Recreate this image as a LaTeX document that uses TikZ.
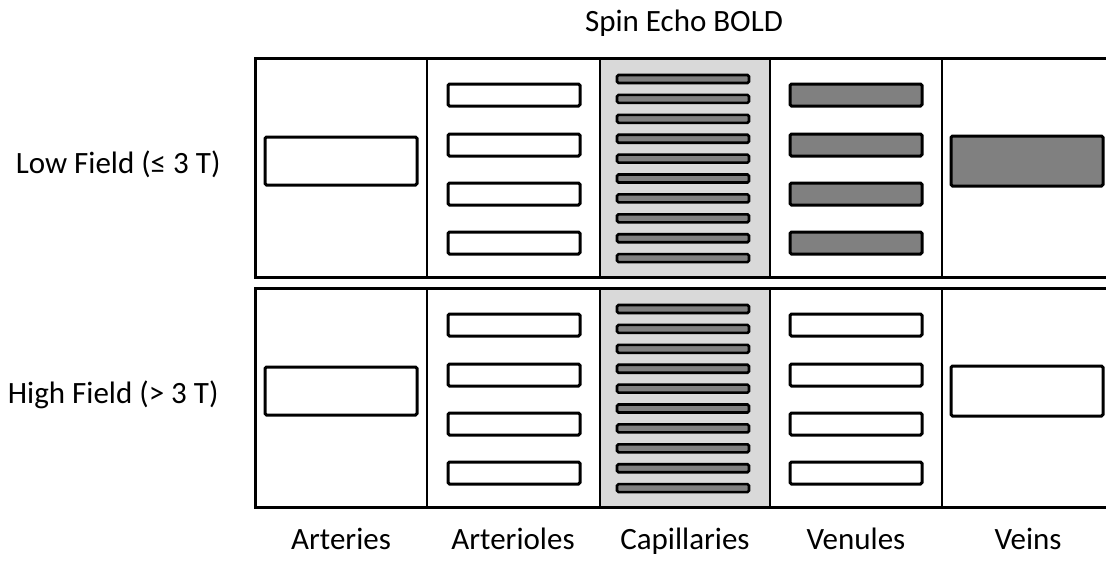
\documentclass[tikz,border=0pt]{standalone}
\usepackage{fontspec}
\setmainfont{Carlito}
\usetikzlibrary{positioning}
\definecolor{capbg}{HTML}{D9D9D9}
\definecolor{deoxy}{HTML}{808080}

\begin{document}
\begin{tikzpicture}[x=1pt, y=-1pt, line width=3pt,
  txt/.style={font=\fontsize{31}{37}\selectfont, inner sep=0pt},
  vessel/.style={draw, line width=3pt, rounded corners=1.5pt}]
  \useasboundingbox (0,0) rectangle (1106,560);

  % two field strength panels, venous blood dark only at low field
  \foreach \dy/\venfill in {0/deoxy, 230/white} {
    \begin{scope}[shift={(0,\dy)}]
      \fill[capbg] (600,58) rectangle (770,277);
      \draw (1106,58) -| (255,277) -- (1106,277);
      \foreach \x in {427,600,770,942}
        \draw[line width=2.6pt] (\x,58) -- (\x,277);
      \draw[vessel] (265,137) rectangle (417,185);
      \foreach \y in {84,134,183,232} {
        \draw[vessel] (448,\y) rectangle (580,\y+22);
        \draw[vessel, fill=\venfill] (790,\y) rectangle (922,\y+22);
      }
      \foreach \i in {0,...,9}
        \draw[vessel, fill=deoxy, line width=2.6pt] (617,75+19.9*\i) rectangle (749,83+19.9*\i);
      \draw[vessel, fill=\venfill] (951,136) rectangle (1103,186);
    \end{scope}
  }

  \node[txt, anchor=base] (title) at (684,31) {Spin Echo BOLD};
  \node[txt, anchor=base east] (lowfield) at (222,173) {Low Field (≤ 3 T)};
  \node[txt, anchor=base east] (highfield) at (220,403) {High Field (> 3 T)};

  \foreach \x/\name/\lbl in {341/arteries/Arteries, 513/arterioles/Arterioles,
      685/capillaries/Capillaries, 856/venules/Venules, 1028/veins/Veins}
    \node[txt, anchor=base] (\name) at (\x,549) {\lbl};
\end{tikzpicture}
\end{document}
